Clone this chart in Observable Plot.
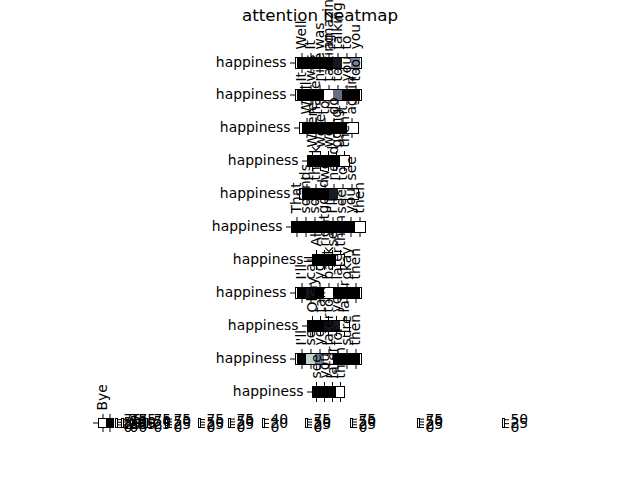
<!DOCTYPE html>
<html><head><meta charset="utf-8">
<script src="https://cdn.jsdelivr.net/npm/d3@7"></script>
<script src="https://cdn.jsdelivr.net/npm/@observablehq/plot@0.6"></script>
<style>
body{margin:0;background:#fff;}
#fig{position:relative;width:640px;height:480px;overflow:hidden;font-family:"DejaVu Sans";}
#fig .slot{position:absolute;}
#title{position:absolute;left:0;width:640px;top:6px;text-align:center;font-size:16.7px;line-height:19px;}
</style></head><body>
<div id="fig"><div id="title">attention heatmap</div></div>
<script>
// ---------- data ----------
const inputWord = "happiness";
const words1 = ["Well","It","was","amazing","talking","to","you"];
const values1 = [0.5, 0.3, 0.4, 0.8, 9, 86, 46];
const words2 = ["It","was","nice","talking","to","you","too"];
const values2 = [0.4, 0.6, 0.3, 82, 38, 0.5, 0.2];
const words3 = ["We'll","have","to","do","it","again"];
const values3 = [0.3, 0.5, 0.4, 0.2, 0.6, 88];
const words4 = ["Where","were","we","going","then"];
const values4 = [0.4, 0.3, 0.5, 0.2, 81];
const words5 = ["I","think","we","need","to","see"];
const values5 = [0.2, 0.4, 0.3, 10, 72, 80];
const words6 = ["That","sounds","so","good","I'll","see","you","then"];
const values6 = [0.3, 0.2, 0.4, 0.3, 0.5, 0.2, 0.4, 85];
const words7 = ["All","right","see","then"];
const values7 = [0.3, 0.5, 0.2, 80];
const words8 = ["I'll","call","you","back","later","okay","then"];
const values8 = [0.3, 4, 0.2, 44, 0.3, 0.5, 0.2];
const words9 = ["Okay","talk","to","you","later"];
const values9 = [0.2, 0.4, 8, 9, 83];
const words10 = ["I'll","see","you","later","for","sure","then"];
const values10 = [0.3, 66, 41, 82, 0.4, 0.2, 0.3];
const words11 = ["see","you","later","then"];
const values11 = [0.4, 0.3, 0.5, 81];
const byeInput = "";
const byeWords = ["Bye", ""];
const byeValues = [58, 0.5];
const ticksQuarter = [0, 25, 50, 75];
const ticksTwenty = [0, 20, 40];
const ticksHalf = [0, 25, 50];

// ---------- tables built from data ----------
const rows = [
  {input: inputWord, words: words1, values: values1, ticks: ticksQuarter},
  {input: inputWord, words: words2, values: values2, ticks: ticksQuarter},
  {input: inputWord, words: words3, values: values3, ticks: ticksQuarter},
  {input: inputWord, words: words4, values: values4, ticks: ticksQuarter},
  {input: inputWord, words: words5, values: values5, ticks: ticksQuarter},
  {input: inputWord, words: words6, values: values6, ticks: ticksQuarter},
  {input: inputWord, words: words7, values: values7, ticks: ticksQuarter},
  {input: inputWord, words: words8, values: values8, ticks: ticksTwenty},
  {input: inputWord, words: words9, values: values9, ticks: ticksQuarter},
  {input: inputWord, words: words10, values: values10, ticks: ticksQuarter},
  {input: inputWord, words: words11, values: values11, ticks: ticksQuarter}
];
const bye = {input: byeInput, words: byeWords, values: byeValues, ticks: ticksHalf};

// ---------- layout (pixels) ----------
const rowWidths = [66, 66, 59, 42, 59, 74, 32, 66, 42, 66, 32];
const cellH = 11, centerX = 328, firstRowY = 62, rowStep = 32.9;
const byeLayout = {cx: 105.5, cy: 422.5, w: 15, h: 9};
const cbX = [115, 121, 130, 145, 165, 198, 228, 262, 305, 350, 417, 502];
const cbY = 422.5, cbH = 9;

// matplotlib "bone" colormap
function lerpSeg(t, pts) {
  for (let i = 1; i < pts.length; i++) {
    if (t <= pts[i][0]) {
      const [x0, y0] = pts[i-1], [x1, y1] = pts[i];
      return y0 + (t - x0) / (x1 - x0) * (y1 - y0);
    }
  }
  return pts[pts.length-1][1];
}
function bone(t) {
  t = Math.max(0, Math.min(1, t));
  const r = lerpSeg(t, [[0,0],[0.746032,0.652778],[1,1]]);
  const g = lerpSeg(t, [[0,0],[0.365079,0.319444],[0.746032,0.777778],[1,1]]);
  const b = lerpSeg(t, [[0,0],[0.365079,0.444444],[1,1]]);
  return `rgb(${Math.round(r*255)},${Math.round(g*255)},${Math.round(b*255)})`;
}

const fig = document.getElementById("fig");
const baseStyle = {background: "transparent", overflow: "visible", fontFamily: "DejaVu Sans", fontSize: "13.9px", color: "black"};

function place(svg, left, top) {
  const d = document.createElement("div");
  d.className = "slot";
  d.style.left = left + "px";
  d.style.top = top + "px";
  d.appendChild(svg);
  fig.appendChild(d);
}

function heatmap(c, cx, cy, w, h) {
  const data = c.words.map((wd, i) => ({word: wd, input: c.input, value: c.values[i]}));
  const mL = 100, mR = 10, mT = 70, mB = 10;
  const svg = Plot.plot({
    width: mL + w + mR, height: mT + h + mB,
    marginLeft: mL, marginRight: mR, marginTop: mT, marginBottom: mB,
    style: baseStyle,
    x: {domain: c.words, padding: 0, label: null},
    y: {domain: [c.input], padding: 0, label: null},
    color: {type: "linear", domain: d3.extent(c.values), interpolate: bone},
    marks: [
      Plot.cell(data, {x: "word", y: "input", fill: "value", inset: 0}),
      Plot.frame({stroke: "black", strokeWidth: 1}),
      Plot.axisX({anchor: "top", tickRotate: -90, tickSize: 5, tickPadding: 3, label: null}),
      Plot.axisX({anchor: "bottom", tickSize: 5, tickFormat: () => "", label: null}),
      Plot.axisY({anchor: "left", tickSize: 5, tickPadding: 4, label: null})
    ]
  });
  place(svg, cx - w / 2 - mL, cy - h / 2 - mT);
}

function colorbar(c, x) {
  const mL = 1, mR = 40, mT = 10, mB = 10, w = 2;
  const svg = Plot.plot({
    width: mL + w + mR, height: mT + cbH + mB,
    marginLeft: mL, marginRight: mR, marginTop: mT, marginBottom: mB,
    style: baseStyle,
    y: {domain: d3.extent(c.values), label: null},
    marks: [
      Plot.frame({stroke: "black", strokeWidth: 1}),
      Plot.axisY({anchor: "right", ticks: c.ticks, tickSize: 4, tickPadding: 2, label: null})
    ]
  });
  place(svg, x - mL, cbY - cbH / 2 - mT);
}

rows.forEach((c, i) => heatmap(c, centerX, firstRowY + i * rowStep, rowWidths[i], cellH));
heatmap(bye, byeLayout.cx, byeLayout.cy, byeLayout.w, byeLayout.h);
[...rows, bye].forEach((c, i) => colorbar(c, cbX[i]));
</script>
</body></html>
